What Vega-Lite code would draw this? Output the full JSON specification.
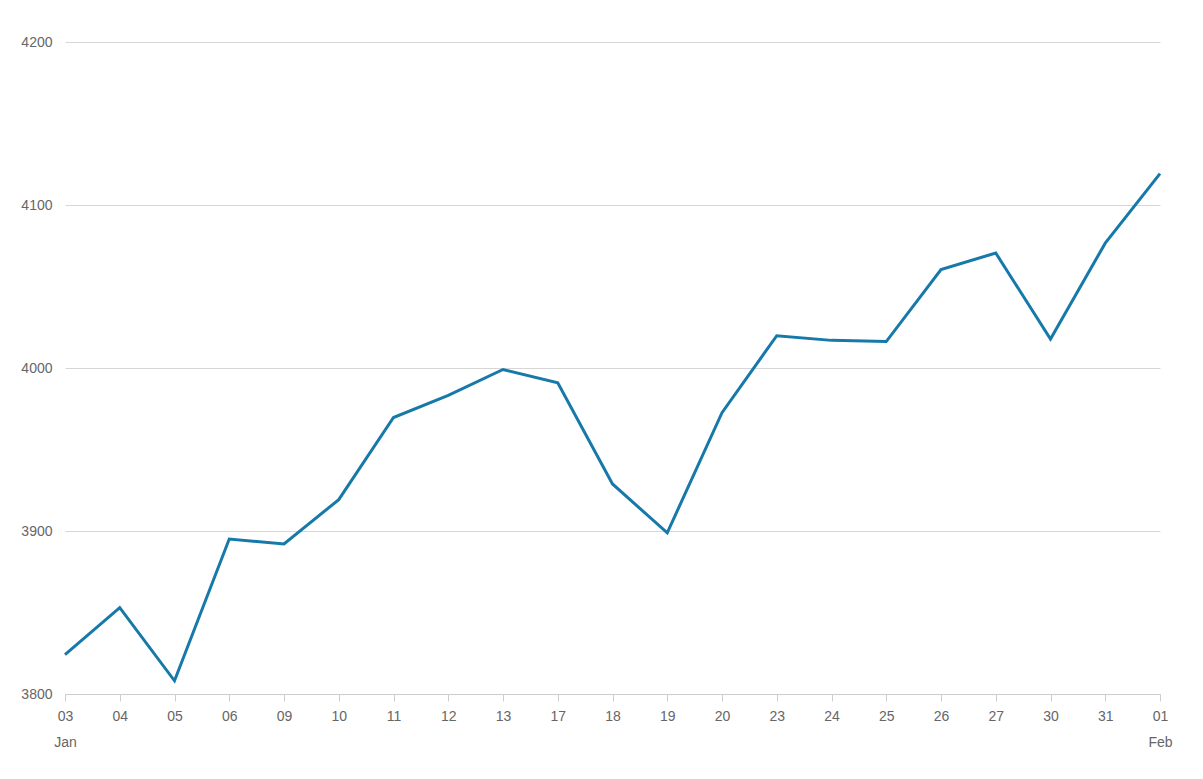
{
  "$schema": "https://vega.github.io/schema/vega-lite/v6.json",
  "width": 1095,
  "height": 652,
  "autosize": {"type": "none"},
  "padding": {"left": 65, "top": 42, "right": 43, "bottom": 85},
  "background": "#ffffff",
  "config": {
    "view": {"stroke": null},
    "font": "Liberation Sans",
    "axis": {
      "labelFont": "Liberation Sans",
      "labelFontSize": 14,
      "labelColor": "#666666",
      "title": null
    }
  },
  "data": {
    "values": [
      {"date": "2023-01-03", "close": 3824.14},
      {"date": "2023-01-04", "close": 3852.97},
      {"date": "2023-01-05", "close": 3808.10},
      {"date": "2023-01-06", "close": 3895.08},
      {"date": "2023-01-09", "close": 3892.09},
      {"date": "2023-01-10", "close": 3919.25},
      {"date": "2023-01-11", "close": 3969.61},
      {"date": "2023-01-12", "close": 3983.17},
      {"date": "2023-01-13", "close": 3999.09},
      {"date": "2023-01-17", "close": 3990.97},
      {"date": "2023-01-18", "close": 3928.86},
      {"date": "2023-01-19", "close": 3898.85},
      {"date": "2023-01-20", "close": 3972.61},
      {"date": "2023-01-23", "close": 4019.81},
      {"date": "2023-01-24", "close": 4016.95},
      {"date": "2023-01-25", "close": 4016.22},
      {"date": "2023-01-26", "close": 4060.43},
      {"date": "2023-01-27", "close": 4070.56},
      {"date": "2023-01-30", "close": 4017.77},
      {"date": "2023-01-31", "close": 4076.60},
      {"date": "2023-02-01", "close": 4119.21}
    ]
  },
  "mark": {"type": "line", "color": "#1679a9", "strokeWidth": 3, "clip": false},
  "encoding": {
    "x": {
      "field": "date",
      "type": "ordinal",
      "sort": null,
      "scale": {"type": "point", "padding": 0},
      "axis": {
        "labelAngle": 0,
        "grid": false,
        "domain": true,
        "domainColor": "#cccccc",
        "ticks": true,
        "tickColor": "#cccccc",
        "tickSize": 7,
        "labelPadding": 8,
        "labelLineHeight": 26,
        "labelBaseline": "top",
        "labelExpr": "datum.value == '2023-01-03' ? ['03', 'Jan'] : datum.value == '2023-02-01' ? ['01', 'Feb'] : substring(datum.value, 8, 10)"
      }
    },
    "y": {
      "field": "close",
      "type": "quantitative",
      "scale": {"domain": [3800, 4200], "nice": false, "zero": false},
      "axis": {
        "values": [3800, 3900, 4000, 4100, 4200],
        "format": "d",
        "grid": true,
        "gridColor": "#d6d6d6",
        "domain": false,
        "ticks": false,
        "labelPadding": 13
      }
    }
  }
}
